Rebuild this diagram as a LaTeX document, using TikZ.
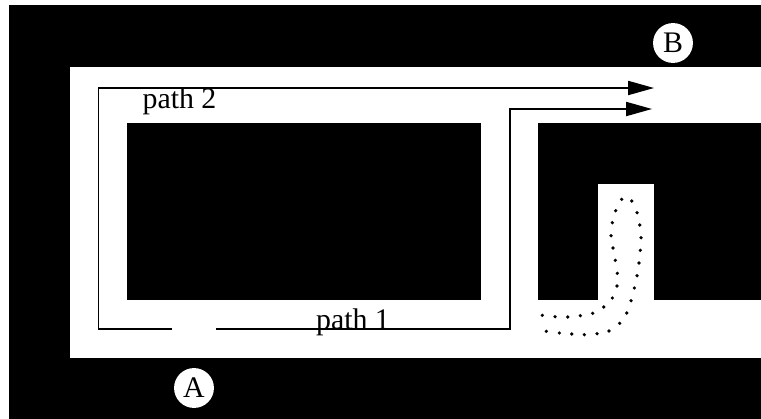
\documentclass[tikz,border=0pt]{standalone}
\usepackage{fontspec}
\setmainfont{Liberation Serif}
\usetikzlibrary{arrows.meta}
\tikzset{
  >={Triangle[length=14.7pt,width=8pt]},
}
\tikzstyle{wall}=[fill=black]
\tikzstyle{floor}=[fill=white]
\tikzstyle{route}=[line width=.9pt,->]
\tikzstyle{every node}=[font=\fontsize{17}{18}\selectfont]
\tikzstyle{port}=[circle,fill=white,inner sep=0pt,minimum size=22.7pt]
\begin{document}
\begin{tikzpicture}[x=.02cm,y=-.02cm]
    \useasboundingbox (0,0) rectangle (761,419);
    \fill[wall] (9,5) rectangle (761,419);
    \fill[floor] (70,67) rectangle (761,358);
    \fill[wall] (127,123) rectangle (481,300);
    \fill[wall] (538,123) rectangle (761,300);
    \fill[floor] (598,184) rectangle (654,300);
    \coordinate (p2a) at (172,329);
    \coordinate (p2b) at (654,88);
    \coordinate (p1a) at (216,329);
    \coordinate (p1b) at (652,109);
    \draw[route] (p2a)--(98.5,329)--(98.5,88)--(p2b);
    \draw[route] (p1a)--(510,329)--(510,109)--(p1b);
    \node[anchor=base] (path2) at (179.5,108) {path 2};
    \node[anchor=base] (path1) at (353,329) {path 1};
    \node[port] (A) at (194,388) {A};
    \node[port] (B) at (673,43) {B};
    % dotted trace
    \foreach \x/\y in {542.3/315.3,555/316.7,567.7/317,580.3/315.7,592.7/313.3,603.7/307,
      612.3/298,617/286,617.3/273.3,615.3/260.3,613/248,611/235.7,612.3/222.7,615.7/210.7,
      621.7/199.3,631.7/201,637/212.7,639.7/225,641/237.7,640.3/250.3,639/263,637/275.7,
      634.3/288,631/300.7,626.7/313,619.7/323.3,609/331,597/333.7,584.3/334.7,571.7/334,
      559.3/333,546.3/331.3}
      \fill (\x,\y) circle (1.8);
\end{tikzpicture}
\end{document}
